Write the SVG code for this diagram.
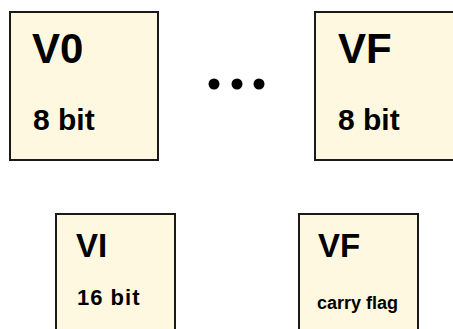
<svg xmlns="http://www.w3.org/2000/svg" width="453" height="329" viewBox="0 0 453 329">
  <style>
    .reg { fill: #fff8e1; stroke: #1a1a1a; stroke-width: 2; }
    .name { font-family: "Liberation Sans", Arial, sans-serif; font-weight: bold; fill: #000; }
    .dot { fill: #000; }
  </style>
  <rect width="453" height="329" fill="#fff"/>
  <g id="reg-v0">
    <rect class="reg" x="10" y="12" width="148" height="148"/>
    <text class="name" x="32" y="63" font-size="42">V0</text>
    <text class="name" x="33" y="130" font-size="30">8 bit</text>
  </g>
  <g id="ellipsis">
    <circle class="dot" cx="214" cy="84" r="5.5"/>
    <circle class="dot" cx="237" cy="84" r="5.5"/>
    <circle class="dot" cx="259" cy="84" r="5.5"/>
  </g>
  <g id="reg-vf">
    <rect class="reg" x="315" y="12" width="160" height="148"/>
    <text class="name" x="338" y="63" font-size="42">VF</text>
    <text class="name" x="338" y="130" font-size="30">8 bit</text>
  </g>
  <g id="reg-vi">
    <rect class="reg" x="56" y="214" width="119" height="130"/>
    <text class="name" x="76" y="257" font-size="33">VI</text>
    <text class="name" x="77" y="305" font-size="22" letter-spacing="1">16 bit</text>
  </g>
  <g id="reg-carry">
    <rect class="reg" x="299" y="214" width="119" height="130"/>
    <text class="name" x="318" y="257" font-size="33">VF</text>
    <text class="name" x="317" y="309" font-size="18">carry flag</text>
  </g>
  <g id="connectors"/>
</svg>
